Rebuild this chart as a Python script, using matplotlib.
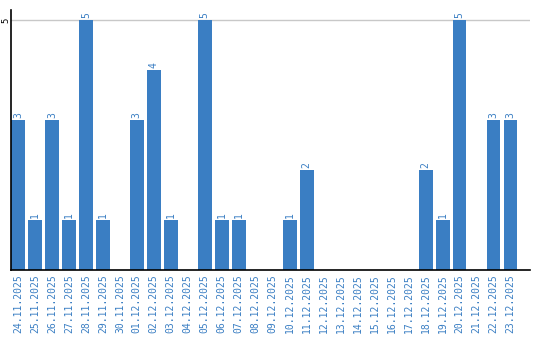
import matplotlib
matplotlib.use('Agg')
import matplotlib.pyplot as plt
import numpy as np

dates = ['24.11.2025', '25.11.2025', '26.11.2025', '27.11.2025', '28.11.2025',
         '29.11.2025', '30.11.2025', '01.12.2025', '02.12.2025', '03.12.2025',
         '04.12.2025', '05.12.2025', '06.12.2025', '07.12.2025', '08.12.2025',
         '09.12.2025', '10.12.2025', '11.12.2025', '12.12.2025', '13.12.2025',
         '14.12.2025', '15.12.2025', '16.12.2025', '17.12.2025', '18.12.2025',
         '19.12.2025', '20.12.2025', '21.12.2025', '22.12.2025', '23.12.2025']
counts = [3, 1, 3, 1, 5, 1, 0, 3, 4, 1, 0, 5, 1, 1, 0,
          0, 1, 2, 0, 0, 0, 0, 0, 0, 2, 1, 5, 0, 3, 3]

blue = '#3a7ec3'
fnt = 'DejaVu Sans Mono'

fig = plt.figure(figsize=(5.4, 3.4), dpi=100)
ax = fig.add_axes([11/540, 70/340, 519/540, 260/340])

x = np.arange(len(dates))
ax.bar(x, counts, width=0.82, color=blue, zorder=2)
for xi, c in zip(x, counts):
    if c > 0:
        ax.text(xi, c + 0.04, str(c), rotation=90, ha='center', va='bottom',
                color=blue, fontsize=7, family=fnt)

ax.set_xlim(-0.41, 30.15)
ax.set_ylim(0, 5.2)
ax.axhline(5, color='#c8c8c8', lw=1, zorder=1)

ax.set_xticks(x)
ax.set_xticklabels(dates, rotation=90, color=blue, fontsize=7, family=fnt)
ax.set_yticks([5])
ax.set_yticklabels(['5'], rotation=90, va='center', fontsize=6.5, family=fnt)
ax.tick_params(axis='x', length=0, pad=3)
ax.tick_params(axis='y', length=0, pad=0.5)

for s in ['top', 'right']:
    ax.spines[s].set_visible(False)
ax.spines['left'].set_linewidth(1.2)
ax.spines['bottom'].set_linewidth(1.2)

fig.savefig('out.png', dpi=100)
